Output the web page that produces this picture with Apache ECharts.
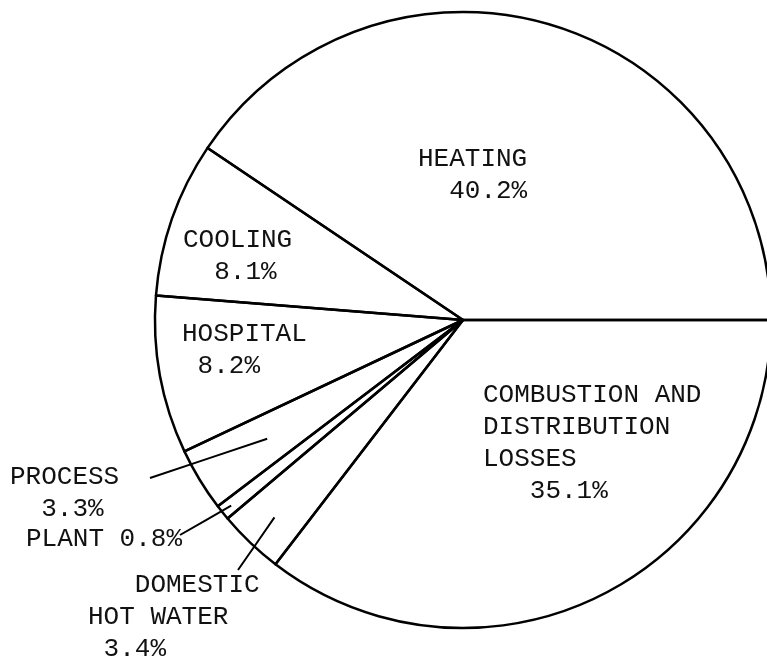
<!DOCTYPE html>
<html>
<head>
<meta charset="utf-8">
<script src="https://cdn.jsdelivr.net/npm/echarts@6/dist/echarts.min.js"></script>
<style>
  html, body { margin: 0; padding: 0; background: #fff; }
  #chart { width: 767px; height: 666px; }
</style>
</head>
<body>
<div id="chart"></div>
<script>
// slice names and shares (percent), counter-clockwise from 3 o'clock
const categories = ['HEATING', 'COOLING', 'HOSPITAL', 'PROCESS', 'PLANT', 'DOMESTIC HOT WATER', 'COMBUSTION AND DISTRIBUTION LOSSES'];
const shares = [40.2, 8.1, 8.2, 3.3, 0.8, 3.4, 35.1];

// typed label lines, {v} gets the share
const labelLines = {
  'HEATING': ['HEATING', '  {v}%'],
  'COOLING': ['COOLING', '  {v}%'],
  'HOSPITAL': ['HOSPITAL', ' {v}%'],
  'PROCESS': ['PROCESS', '  {v}%'],
  'PLANT': ['PLANT {v}%'],
  'DOMESTIC HOT WATER': ['   DOMESTIC', 'HOT WATER', ' {v}%'],
  'COMBUSTION AND DISTRIBUTION LOSSES': ['COMBUSTION AND', 'DISTRIBUTION', 'LOSSES', '   {v}%']
};

// layout: pie geometry and where each label's caps start
const CX = 463, CY = 320, R = 308;
const FONT = 26, LINE_H = 32, CAP_OFF = 9;
const labelPos = {
  'HEATING': { x: 418, y: 152 },
  'COOLING': { x: 183, y: 233 },
  'HOSPITAL': { x: 182, y: 327 },
  'PROCESS': { x: 10, y: 470, lead: { r: 229, end: [150, 478] } },
  'PLANT': { x: 26, y: 532, lead: { r: 297, end: [180, 535] } },
  'DOMESTIC HOT WATER': { x: 88, y: 578, lead: { r: 273, end: [238, 570] } },
  'COMBUSTION AND DISTRIBUTION LOSSES': { x: 483, y: 388 }
};

const total = shares.reduce((a, b) => a + b, 0);
const midAngles = [];
let acc = 0;
shares.forEach(v => {
  midAngles.push((acc + v / 2) / total * Math.PI * 2);
  acc += v;
});

const pieData = categories.map((name, i) => {
  const item = { name: name, value: shares[i] };
  if (labelPos[name].lead) {
    item.label = { position: 'outside' };
    item.labelLine = { show: true };
  }
  return item;
});

const chart = echarts.init(document.getElementById('chart'));
chart.setOption({
  animation: false,
  backgroundColor: '#fff',
  series: [{
    type: 'pie',
    center: [CX, CY],
    radius: R,
    startAngle: 0,
    clockwise: false,
    avoidLabelOverlap: false,
    silent: true,
    // no fill so the leader lines stay visible inside the slices
    itemStyle: { color: 'rgba(255,255,255,0)', borderColor: '#000', borderWidth: 2.5 },
    label: {
      show: true,
      position: 'inside',
      color: '#111',
      textBorderWidth: 0,
      fontFamily: '"Liberation Mono", "DejaVu Sans Mono", monospace',
      fontSize: FONT,
      lineHeight: LINE_H,
      align: 'left',
      formatter: p => labelLines[p.name].map(s => s.replace('{v}', p.value.toFixed(1))).join('\n')
    },
    labelLine: {
      show: false,
      smooth: false,
      lineStyle: { color: '#000', width: 2 }
    },
    labelLayout: p => {
      const name = categories[p.dataIndex];
      const pos = labelPos[name];
      const out = { x: pos.x, y: pos.y - CAP_OFF, align: 'left', verticalAlign: 'top' };
      if (pos.lead) {
        const a = midAngles[p.dataIndex];
        const s = [CX + pos.lead.r * Math.cos(a), CY - pos.lead.r * Math.sin(a)];
        const e = pos.lead.end;
        out.labelLinePoints = [s, [(s[0] + e[0]) / 2, (s[1] + e[1]) / 2], e];
      }
      return out;
    },
    data: pieData
  }]
});
</script>
</body>
</html>
